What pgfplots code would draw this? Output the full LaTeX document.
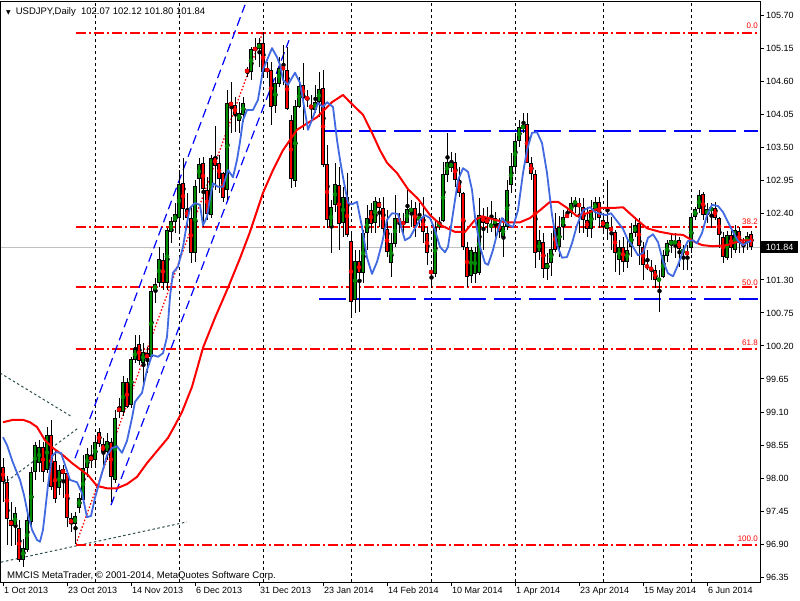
\documentclass[border=0pt]{standalone}
\usepackage{pgfplots}
\pgfplotsset{compat=1.18}
\usepackage{pgfplotstable}
\usepackage{fontspec}
\setmainfont{Liberation Sans}
\newfontfamily\dejavu{DejaVu Sans}
\definecolor{bull}{RGB}{0,140,0}
\definecolor{bear}{RGB}{255,0,0}
\definecolor{mablue}{RGB}{65,105,225}
\definecolor{chan}{RGB}{0,0,255}
\definecolor{slate}{RGB}{47,79,79}
\definecolor{bidgray}{RGB}{192,192,192}

\pgfplotstableread{
i o h l c
0 98.18 98.33 97.60 97.93
1 97.93 98.03 96.89 97.32
2 97.30 97.60 96.87 97.20
3 97.20 97.52 96.89 97.42
4 97.17 97.30 96.60 96.64
5 96.64 96.99 96.52 96.84
6 96.80 97.43 96.77 97.30
7 97.27 98.18 97.19 98.10
8 98.10 98.60 97.97 98.55
9 98.25 98.63 98.10 98.52
10 98.52 98.60 97.93 98.10
11 98.13 98.85 98.08 98.72
12 98.72 98.97 97.80 97.85
13 98.28 98.47 97.58 97.65
14 97.83 98.22 97.72 98.13
15 98.15 98.22 97.67 98.07
16 98.08 98.13 97.19 97.33
17 97.33 97.42 97.10 97.23
18 97.23 97.43 96.90 97.37
19 97.50 97.75 97.42 97.67
20 97.63 98.38 97.58 98.17
21 98.17 98.50 98.02 98.40
22 98.38 98.55 98.17 98.28
23 98.30 98.70 98.18 98.60
24 98.77 98.83 98.52 98.57
25 98.57 98.67 98.18 98.43
26 98.43 98.75 98.30 98.62
27 98.60 98.67 97.60 98.02
28 97.97 99.13 97.92 99.00
29 99.18 99.33 99.00 99.10
30 99.10 99.70 99.03 99.60
31 99.60 99.67 99.17 99.18
32 99.22 100.02 99.17 99.98
33 99.97 100.38 99.92 100.15
34 100.23 100.38 99.88 99.95
35 99.92 100.25 99.52 100.10
36 100.08 100.18 99.75 99.98
37 100.02 101.18 100.00 101.12
38 101.12 101.33 100.91 101.23
39 101.25 101.85 101.18 101.65
40 101.63 101.75 101.13 101.25
41 101.25 102.16 101.13 102.13
42 102.10 102.35 101.91 102.28
43 102.26 102.58 102.08 102.40
44 102.33 103.13 102.08 102.90
45 102.91 103.33 102.30 102.48
46 102.48 102.75 102.18 102.33
47 102.33 102.51 101.58 101.75
48 101.75 102.96 101.60 102.86
49 102.98 103.33 102.75 103.23
50 103.25 103.35 102.18 102.81
51 102.80 103.01 102.30 102.40
52 102.38 103.38 102.33 103.33
53 103.35 103.86 102.80 103.20
54 103.25 103.38 102.75 102.98
55 103.08 103.10 102.60 102.66
56 102.80 104.46 102.63 104.25
57 104.26 104.60 103.75 104.20
58 104.21 104.35 103.76 104.05
59 103.95 104.26 103.75 104.08
60 104.05 104.35 103.93 104.25
61 104.80 104.85 104.68 104.76
62 104.76 105.18 104.63 105.14
63 105.18 105.33 104.96 105.11
64 105.14 105.33 104.85 105.24
65 105.24 105.43 104.66 104.76
66 104.81 104.93 104.66 104.78
67 104.80 104.93 103.88 104.18
68 104.20 104.68 104.08 104.58
69 104.56 105.01 104.51 104.83
70 104.85 105.21 104.55 104.80
71 104.80 105.18 104.13 104.15
72 103.96 104.05 102.83 102.98
73 102.95 104.30 102.85 104.20
74 104.18 104.68 104.16 104.53
75 104.55 104.91 103.80 104.33
76 104.35 104.46 104.18 104.30
77 104.21 104.38 103.96 104.16
78 104.13 104.55 104.08 104.26
79 104.26 104.76 104.01 104.48
80 104.50 104.80 103.18 103.21
81 103.23 103.55 102.16 102.30
82 102.18 102.63 101.75 102.51
83 102.55 103.25 102.43 102.90
84 102.88 103.18 101.80 102.23
85 102.25 102.85 102.01 102.68
86 102.68 103.08 102.01 102.05
87 101.95 102.08 100.70 100.93
88 100.97 101.80 100.75 101.61
89 101.61 101.80 100.77 101.41
90 101.41 102.13 101.25 102.08
91 102.08 102.55 101.80 102.33
92 102.46 102.58 102.08 102.23
93 102.25 102.68 102.08 102.61
94 102.60 102.66 102.18 102.50
95 102.50 102.68 102.08 102.15
96 102.15 102.46 101.68 101.76
97 101.58 102.08 101.35 101.91
98 101.90 102.71 101.85 102.33
99 102.33 102.41 102.08 102.26
100 102.26 102.41 102.08 102.23
101 102.25 102.81 102.25 102.48
102 102.43 102.63 102.18 102.50
103 102.50 102.60 102.01 102.20
104 102.30 102.58 102.18 102.35
105 102.35 102.68 101.91 102.10
106 102.08 102.18 101.55 101.75
107 101.45 101.51 101.17 101.41
108 101.40 102.30 101.35 102.18
109 102.18 102.35 102.13 102.26
110 102.28 103.26 102.26 103.06
111 103.05 103.75 102.93 103.26
112 103.16 103.43 103.10 103.26
113 103.26 103.41 102.85 102.96
114 102.96 103.18 102.68 102.75
115 102.75 102.76 101.80 101.85
116 101.85 101.93 101.18 101.35
117 101.37 101.85 101.25 101.80
118 101.40 101.85 101.25 101.76
119 101.41 102.66 101.38 102.38
120 102.36 102.50 101.80 102.25
121 102.33 102.51 102.08 102.23
122 102.18 102.61 102.10 102.23
123 102.21 102.43 102.01 102.33
124 102.25 102.33 102.00 102.10
125 102.01 102.33 101.68 102.20
126 102.18 102.96 102.13 102.80
127 102.88 103.41 102.75 103.20
128 103.18 103.75 103.10 103.61
129 103.61 103.96 103.51 103.85
130 103.81 104.08 103.75 103.88
131 103.90 104.08 103.25 103.25
132 103.25 103.35 102.96 103.06
133 103.06 103.13 101.50 101.75
134 101.76 102.13 101.63 101.96
135 101.93 102.08 101.33 101.48
136 101.48 101.75 101.30 101.58
137 101.58 102.08 101.36 101.81
138 102.16 102.41 101.76 101.80
139 101.85 102.36 101.68 102.18
140 102.18 102.46 101.96 102.35
141 102.38 102.50 102.33 102.35
142 102.41 102.68 102.35 102.58
143 102.58 102.68 102.41 102.60
144 102.58 102.66 102.08 102.51
145 102.51 102.66 102.08 102.30
146 102.30 102.51 102.01 102.15
147 102.15 102.63 102.00 102.46
148 102.45 102.68 102.30 102.60
149 102.60 102.68 102.16 102.33
150 102.30 102.38 102.10 102.18
151 102.15 102.96 101.96 102.26
152 102.18 102.35 101.80 102.11
153 102.10 102.13 101.43 101.75
154 101.63 101.96 101.38 101.85
155 101.85 102.01 101.43 101.60
156 101.60 101.96 101.50 101.80
157 101.85 102.25 101.68 102.08
158 102.08 102.35 102.01 102.21
159 102.25 102.33 101.55 101.86
160 101.85 101.93 101.30 101.55
161 101.55 101.80 101.46 101.50
162 101.51 101.63 101.30 101.46
163 101.46 101.55 101.17 101.30
164 101.28 101.46 100.77 101.33
165 101.35 101.80 101.33 101.71
166 101.70 101.96 101.60 101.91
167 101.88 102.05 101.75 101.96
168 101.90 102.08 101.66 101.95
169 101.96 102.01 101.51 101.81
170 101.75 101.88 101.46 101.81
171 101.76 101.88 101.46 101.73
172 101.83 102.41 101.75 102.35
173 102.35 102.51 102.30 102.48
174 102.48 102.80 102.41 102.71
175 102.73 102.76 102.30 102.38
176 102.38 102.58 102.25 102.48
177 102.46 102.58 102.16 102.50
178 102.50 102.60 102.30 102.33
179 102.33 102.35 101.83 102.05
180 102.01 102.10 101.58 101.68
181 101.66 102.11 101.63 102.05
182 102.05 102.13 101.66 101.83
183 101.80 102.21 101.75 102.13
184 102.11 102.18 101.75 101.91
185 101.91 102.00 101.75 101.90
186 101.91 102.10 101.80 102.03
187 102.07 102.12 101.80 101.84
}\candles

\pgfplotstableread{
i p
0 98.93
2.5 98.97
5 98.97
6.75 98.93
8.5 98.85
10.5 98.63
12.5 98.50
15 98.38
17.25 98.25
19.25 98.15
21.25 98.05
23.5 97.87
26 97.83
28.5 97.83
31 97.90
33.5 98.02
36 98.25
38.75 98.47
41.25 98.67
43 98.88
44.75 99.10
47.25 99.52
50 100.17
53 100.67
56.25 101.17
59.25 101.66
61.75 102.10
65 102.75
67.5 103.13
70 103.46
73.5 103.80
78.5 104.01
82.25 104.26
85 104.38
86.75 104.26
90 104.05
92.25 103.75
94.25 103.46
96 103.25
98.5 103.08
101.25 102.81
103.75 102.65
106.75 102.38
109.75 102.20
113 102.10
115.5 102.10
118 102.30
119.75 102.36
123 102.30
125.5 102.26
129.25 102.26
131.75 102.33
134.25 102.46
136.75 102.60
138.75 102.60
141 102.50
143.5 102.36
146 102.41
149.25 102.50
153 102.50
155 102.51
158.5 102.30
161 102.16
164.25 102.10
167.5 102.06
170 102.05
173 101.93
174.75 101.88
177.5 101.86
181 101.88
184.75 101.96
187 101.96
}\redma

\pgfplotstableread{
i p
0 98.68
1 98.55
2.25 98.30
3.25 98.13
4.25 97.97
5.25 97.72
6.25 97.39
7.25 97.14
8.5 96.97
9.25 96.94
10 97.14
10.5 97.43
11.25 97.88
12.25 98.37
13.25 98.43
14.5 98.42
15.5 98.22
16.75 97.97
18.5 97.93
19.75 97.75
21 97.35
22 97.37
23 97.67
24.25 97.97
26 98.38
27.25 98.50
28.5 98.53
29.75 98.42
31 98.62
32.25 99.00
33 99.27
34.75 99.42
36 99.80
37.25 100.05
38.75 100.02
40 100.08
41 100.35
41.75 101.02
42.5 101.42
43.75 101.52
45 101.85
46 102.25
46.75 102.50
48 102.58
49.25 102.55
50 102.21
51 102.35
51.75 102.66
52.5 102.91
53.75 102.85
55 102.85
56.25 103.13
57.5 103.01
58.5 103.30
59.25 103.60
60 103.96
61 104.13
62.5 104.13
63.75 104.30
65 104.80
67.25 105.16
68.5 105.01
69.25 104.88
70 104.63
71.25 104.55
73 104.75
74.25 104.58
75.5 104.10
76.25 103.80
77.5 104.01
78.75 104.25
80 104.18
81 104.26
82.5 104.18
83.5 103.63
84.25 103.30
85 103.01
86.25 102.58
87.25 102.56
88.5 102.60
89.75 102.18
91 101.67
92.25 101.40
93.5 101.60
94.75 101.91
96 102.30
97.25 102.41
98.75 102.40
99.75 102.13
100.5 101.96
101.75 102.01
103 102.16
104.25 102.30
105.5 102.38
106.75 102.33
108 102.13
109.25 101.85
110.5 101.76
111.25 101.85
112.5 102.41
113.75 102.96
115 103.16
116.25 103.10
117.25 102.80
118 102.35
119.25 101.85
120.5 101.58
121.25 101.55
122.5 101.80
123.75 102.13
124.75 102.33
126 102.23
127.5 102.18
128.75 102.46
130 103.08
131 103.46
132.25 103.75
133.5 103.76
134.75 103.58
136 103.08
137.25 102.38
138.5 101.88
139.75 101.67
141 101.68
142.25 101.91
143.5 102.21
145 102.46
146.75 102.51
148 102.43
149.25 102.40
150.75 102.38
152 102.41
153.5 102.28
155 102.15
156.25 101.96
157.25 101.88
158.75 101.71
160 101.75
161.25 102.00
162.5 102.06
163.75 101.93
165 101.61
166.25 101.41
167.5 101.36
168.75 101.55
170 101.78
171.25 101.95
172.5 101.96
173.5 101.91
174.75 102.08
176 102.38
177.25 102.55
178.75 102.53
180 102.43
181.25 102.26
182.5 102.10
183.75 101.95
185 101.88
186.25 101.93
187 101.95
}\blueline

\begin{document}
\begin{tikzpicture}
\path[use as bounding box] (0pt,0pt) rectangle (800pt,600pt);
\fill[white] (0pt,0pt) rectangle (800pt,600pt);
\begin{axis}[
  at={(0.5pt,18pt)}, anchor=south west,
  scale only axis, width=759.5pt, height=580pt,
  xmin=-0.625, xmax=189.25, ymin=96.2695, ymax=105.928,
  axis line style={black, line width=1pt},
  tick align=outside,
  major tick length=4pt,
  xtick pos=left, ytick pos=right,
  yticklabel pos=right,
  tick style={black, line width=1pt},
  xtick={0,16,32,48,64,80,96,112,128,144,160,176},
  xticklabels={1 Oct 2013,23 Oct 2013,14 Nov 2013,6 Dec 2013,31 Dec 2013,23 Jan 2014,14 Feb 2014,10 Mar 2014,1 Apr 2014,23 Apr 2014,15 May 2014,6 Jun 2014},
  xticklabel style={anchor=north west, inner sep=0pt, xshift=1pt, yshift=-1pt},
  ytick={96.35,96.90,97.45,98.00,98.55,99.10,99.65,100.20,100.75,101.30,102.40,102.95,103.50,104.05,104.60,105.15,105.70},
  yticklabel style={anchor=west, inner sep=0pt, xshift=2pt, /pgf/number format/.cd, fixed, fixed zerofill, precision=2},
  /pgf/number format/assume math mode=true,
  scaled y ticks=false,
  ticklabel style={font=\fontsize{9}{10}\selectfont},
  extra x ticks={23.125,44.125,65.125,87.125,107.125,128.125,150.125,172.125},
  extra x tick labels={},
  extra x tick style={grid=major, major tick length=0pt, major grid style={black, line width=1pt, dash pattern=on 3pt off 3pt}},
  clip mode=individual,
]
% bid line
\addplot[color=bidgray, line width=1.2pt, forget plot] coordinates {(-0.625,101.84) (189.25,101.84)};
% gray dotted triangle lines
\addplot[color=slate, line width=1pt, dash pattern=on 2.5pt off 2.5pt] coordinates {(-0.75,99.75) (17.25,99.02)};
\addplot[color=slate, line width=1pt, dash pattern=on 2.5pt off 2.5pt] coordinates {(0,97.90) (18.75,98.83)};
\addplot[color=slate, line width=1pt, dash pattern=on 2.5pt off 2.5pt] coordinates {(-0.5,96.60) (46,97.27)};
% fibonacci levels
\addplot[color=red, line width=1.5pt, dash pattern=on 10pt off 3pt on 2pt off 3pt] coordinates {(18.25,105.412) (188.75,105.412)};
\addplot[color=red, line width=1.5pt, dash pattern=on 10pt off 3pt on 2pt off 3pt] coordinates {(18.25,102.181) (188.75,102.181)};
\addplot[color=red, line width=1.5pt, dash pattern=on 10pt off 3pt on 2pt off 3pt] coordinates {(18.25,101.182) (188.75,101.182)};
\addplot[color=red, line width=1.5pt, dash pattern=on 10pt off 3pt on 2pt off 3pt] coordinates {(18.25,100.150) (188.75,100.150)};
\addplot[color=red, line width=1.5pt, dash pattern=on 10pt off 3pt on 2pt off 3pt] coordinates {(18.25,96.886) (188.75,96.886)};
\addplot[color=red, line width=1.3pt, dash pattern=on 1.5pt off 2pt] coordinates {(18.25,96.90) (65,105.43)};
% channel
\addplot[color=chan, line width=1.2pt, dash pattern=on 9pt off 5pt] coordinates {(18,98.33) (60.5,105.88)};
\addplot[color=chan, line width=1.2pt, dash pattern=on 9pt off 5pt] coordinates {(27,97.55) (71.5,105.29)};
% horizontal levels
\addplot[color=chan, line width=1.7pt, dash pattern=on 27pt off 8pt] coordinates {(80.25,103.78) (188.75,103.78)};
\addplot[color=chan, line width=1.7pt, dash pattern=on 27pt off 8pt] coordinates {(79,100.982) (188.75,100.982)};
% wicks
\addplot[color=black, only marks, mark=none, error bars/.cd, y dir=both, y explicit, error mark=none, error bar style={color=black, line width=1pt}]
 table[x expr={\thisrow{i}+0.125}, y expr={0.5*(\thisrow{h}+\thisrow{l})}, y error expr={0.5*(\thisrow{h}-\thisrow{l})}] {\candles};
% bull bodies
\addplot[color=black, only marks, mark=none, error bars/.cd, y dir=both, y explicit, error mark=none, error bar style={color=black, line width=3.4pt}]
 table[x=i, y expr={\thisrow{c}>=\thisrow{o} ? 0.5*(\thisrow{o}+\thisrow{c}) : nan}, y error expr={max(0.5*abs(\thisrow{c}-\thisrow{o}),0.009)}] {\candles};
\addplot[color=bull, only marks, mark=none, error bars/.cd, y dir=both, y explicit, error mark=none, error bar style={color=bull, line width=2pt}]
 table[x=i, y expr={\thisrow{c}>=\thisrow{o} ? 0.5*(\thisrow{o}+\thisrow{c}) : nan}, y error expr={max(0.5*abs(\thisrow{c}-\thisrow{o})-0.0167,0)}] {\candles};
% bear bodies
\addplot[color=black, only marks, mark=none, error bars/.cd, y dir=both, y explicit, error mark=none, error bar style={color=black, line width=3.4pt}]
 table[x=i, y expr={\thisrow{c}<\thisrow{o} ? 0.5*(\thisrow{o}+\thisrow{c}) : nan}, y error expr={max(0.5*abs(\thisrow{c}-\thisrow{o}),0.009)}] {\candles};
\addplot[color=bear, only marks, mark=none, error bars/.cd, y dir=both, y explicit, error mark=none, error bar style={color=bear, line width=2pt}]
 table[x=i, y expr={\thisrow{c}<\thisrow{o} ? 0.5*(\thisrow{o}+\thisrow{c}) : nan}, y error expr={max(0.5*abs(\thisrow{c}-\thisrow{o})-0.0167,0)}] {\candles};
% indicators
\addplot[color=red, line width=2pt, line join=round] table[x=i, y=p] {\redma};
\addplot[color=mablue, line width=1.8pt, line join=round] table[x=i, y=p] {\blueline};
% fib labels
\node[anchor=base east, text=red, inner sep=0pt, font=\fontsize{8}{8}\selectfont] at (axis cs:188.75,105.43) [yshift=3pt] {0.0};
\node[anchor=base east, text=red, inner sep=0pt, font=\fontsize{8}{8}\selectfont] at (axis cs:188.75,102.17) [yshift=3pt] {38.2};
\node[anchor=base east, text=red, inner sep=0pt, font=\fontsize{8}{8}\selectfont] at (axis cs:188.75,101.165) [yshift=3pt] {50.0};
\node[anchor=base east, text=red, inner sep=0pt, font=\fontsize{8}{8}\selectfont] at (axis cs:188.75,100.16) [yshift=3pt] {61.8};
\node[anchor=base east, text=red, inner sep=0pt, font=\fontsize{8}{8}\selectfont] at (axis cs:188.75,96.90) [yshift=3pt] {100.0};
% current price box
\node[anchor=west, fill=black, text=white, inner sep=0pt, minimum width=37pt, minimum height=12pt, font=\fontsize{9}{10}\selectfont] at (axis cs:189.25,101.84) [xshift=1pt] {101.84};
\end{axis}
\node[anchor=base west, inner sep=0pt, font=\fontsize{9.5}{10}\selectfont] at (6pt,585pt) {{\dejavu\fontsize{6}{6}\selectfont ▼}\hspace{5pt}USDJPY,Daily\ \ 102.07 102.12 101.80 101.84};
\node[anchor=base west, inner sep=0pt, font=\fontsize{9.6}{10}\selectfont] at (7pt,22pt) {MMCIS MetaTrader, © 2001-2014, MetaQuotes Software Corp.};
\end{tikzpicture}
\end{document}
